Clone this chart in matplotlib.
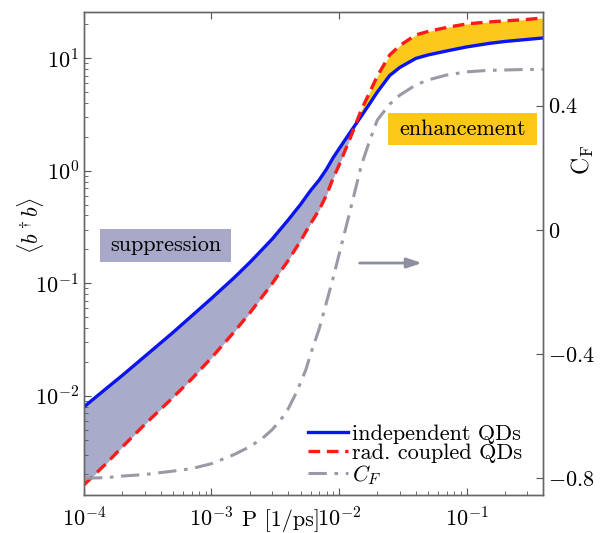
import numpy as np
import matplotlib
matplotlib.use("Agg")
import matplotlib.pyplot as plt
from matplotlib.patches import Rectangle
from matplotlib.ticker import FixedLocator, FixedFormatter, LogLocator, NullFormatter

plt.rcParams['font.family'] = 'serif'
plt.rcParams['font.serif'] = ['cmr10', 'DejaVu Serif']
plt.rcParams['mathtext.fontset'] = 'cm'
plt.rcParams['axes.formatter.use_mathtext'] = True
plt.rcParams['axes.unicode_minus'] = False

# Pump rate P [1/ps]
P = [1e-4, 1.5e-4, 2e-4, 3e-4, 5e-4, 7e-4, 1e-3, 1.5e-3, 2e-3, 2.5e-3, 3e-3, 3.5e-3,
     4e-3, 4.5e-3, 5e-3, 5.5e-3, 6e-3, 7e-3, 8e-3, 9e-3, 1e-2, 1.2e-2, 1.5e-2,
     1.75e-2, 2e-2, 2.5e-2, 3e-2, 4e-2, 5e-2, 7e-2, 0.1, 0.15, 0.2, 0.3, 0.4]
# <b^dagger b> independent QDs
n_indep = [7.95e-3, 0.01161, 0.01515, 0.02235, 0.03653, 0.05121, 0.07328, 0.1114,
           0.1531, 0.1993, 0.2476, 0.305, 0.3653, 0.4325, 0.5018, 0.5836, 0.6683,
           0.8284, 1.037, 1.306, 1.562, 2.124, 3.070, 3.985, 5.015, 7.03, 8.285,
           9.96, 10.70, 11.61, 12.60, 13.54, 14.10, 14.70, 15.15]
# <b^dagger b> radiatively coupled QDs
n_coupled = [1.611e-3, 2.502e-3, 3.506e-3, 5.557e-3, 9.658e-3, 0.01410, 0.02172,
             0.03667, 0.05445, 0.0759, 0.09959, 0.1286, 0.1595, 0.1972, 0.2381,
             0.287, 0.3394, 0.4501, 0.6118, 0.8593, 1.117, 1.840, 3.493, 5.048,
             6.961, 10.70, 12.97, 16.11, 17.31, 18.79, 20.18, 21.02, 21.46, 22.13,
             22.82]
# C_F (right axis)
C_F = [-0.801, -0.799, -0.794, -0.789, -0.778, -0.770, -0.754, -0.725, -0.699,
       -0.673, -0.644, -0.612, -0.577, -0.535, -0.493, -0.451, -0.400, -0.319,
       -0.232, -0.155, -0.081, 0.048, 0.209, 0.290, 0.354, 0.405, 0.434, 0.467,
       0.483, 0.499, 0.509, 0.514, 0.515, 0.517, 0.517]

xticks = [1e-4, 1e-3, 1e-2, 1e-1]
yticks = [1e-2, 1e-1, 1e0, 1e1]
cf_ticks = [-0.8, -0.4, 0, 0.4]
cf_labels = ['$-0.8$', '$-0.4$', '$0$', '$0.4$']

fig = plt.figure(figsize=(6.08, 5.33), dpi=100)
ax = fig.add_axes([0.138, 0.0713, 0.7556, 0.9056])

Pa = np.array(P); a = np.array(n_indep); b = np.array(n_coupled)
lav = '#a9abcb'
gold = '#fdc81c'
ax.fill_between(Pa, a, b, where=a >= b, interpolate=True, color=lav, lw=0, zorder=1)
ax.fill_between(Pa, a, b, where=a <= b, interpolate=True, color=gold, lw=0, zorder=1)
l1, = ax.plot(P, n_indep, color='#0a14f0', lw=2.4, zorder=4)
l2, = ax.plot(P, n_coupled, color='#ff1a1a', lw=2.4, ls=(0, (3.5, 2.0)), zorder=5)
ax.set_xscale('log'); ax.set_yscale('log')
ax.set_xlim(1e-4, 0.4)
ax.set_ylim(1.31e-3, 25.6)

# annotation boxes
ax.add_patch(Rectangle((0.0348, 0.4827), 0.285, 0.0684, transform=ax.transAxes,
                       facecolor='#a8a9c9', edgecolor='none', zorder=3))
ax.text(0.0348 + 0.285/2, 0.4827 + 0.0684/2, 'suppression', transform=ax.transAxes,
        ha='center', va='center', fontsize=16, zorder=6)
ax.add_patch(Rectangle((0.662, 0.7251), 0.3244, 0.0663, transform=ax.transAxes,
                       facecolor='#fcc719', edgecolor='none', zorder=3))
ax.text(0.662 + 0.3244/2, 0.7251 + 0.0663/2, 'enhancement', transform=ax.transAxes,
        ha='center', va='center', fontsize=16, zorder=6)

ax.annotate('', xy=(0.742, 0.4806), xytext=(0.594, 0.4806), xycoords='axes fraction',
            arrowprops=dict(arrowstyle='-|>,head_length=0.9,head_width=0.3',
                            color='#8e8ea2', lw=2))

ax.xaxis.set_major_locator(FixedLocator(xticks))
ax.yaxis.set_major_locator(FixedLocator(yticks))
ax.xaxis.set_minor_locator(LogLocator(base=10, subs=np.arange(2, 10), numticks=20))
ax.yaxis.set_minor_locator(LogLocator(base=10, subs=np.arange(2, 10), numticks=20))
ax.xaxis.set_minor_formatter(NullFormatter())
ax.yaxis.set_minor_formatter(NullFormatter())
ax.tick_params(which='both', direction='in', labelsize=16, color='#555555')
ax.tick_params(which='major', length=5, width=0.8, top=True)
ax.tick_params(which='minor', length=3, width=0.6)
ax.tick_params(axis='x', pad=8)
for s in ax.spines.values():
    s.set_color('#666666'); s.set_linewidth(1)

ax2 = ax.twinx()
l3, = ax2.plot(P, C_F, color='#9a9aa6', lw=2.2, ls=(0, (6, 2.5, 1.2, 2.5)), zorder=2)
ax2.set_ylim(-0.855, 0.701)
ax2.yaxis.set_major_locator(FixedLocator(cf_ticks))
ax2.yaxis.set_major_formatter(FixedFormatter(cf_labels))
ax2.tick_params(direction='in', length=5, width=0.8, labelsize=16, color='#555555')
for s in ax2.spines.values():
    s.set_color('#666666'); s.set_linewidth(1)

ax2.legend([l1, l2, l3], ['independent QDs', 'rad. coupled QDs', '$C_F$'],
           loc='upper left', bbox_to_anchor=(0.464, 0.17), frameon=False,
           fontsize=16, handlelength=1.8, handletextpad=0.15, labelspacing=0.0,
           borderpad=0.0)

fig.text(0.462, 0.024, 'P [1/ps]', ha='center', va='center', fontsize=16)
fig.text(0.05, 0.578, r'$\langle b^\dagger b\rangle$', ha='center', va='center',
         rotation=90, fontsize=16)
fig.text(0.958, 0.70, r'$\mathrm{C_F}$', ha='center', va='center', rotation=90,
         fontsize=17)

fig.savefig('out.png', dpi=100)
